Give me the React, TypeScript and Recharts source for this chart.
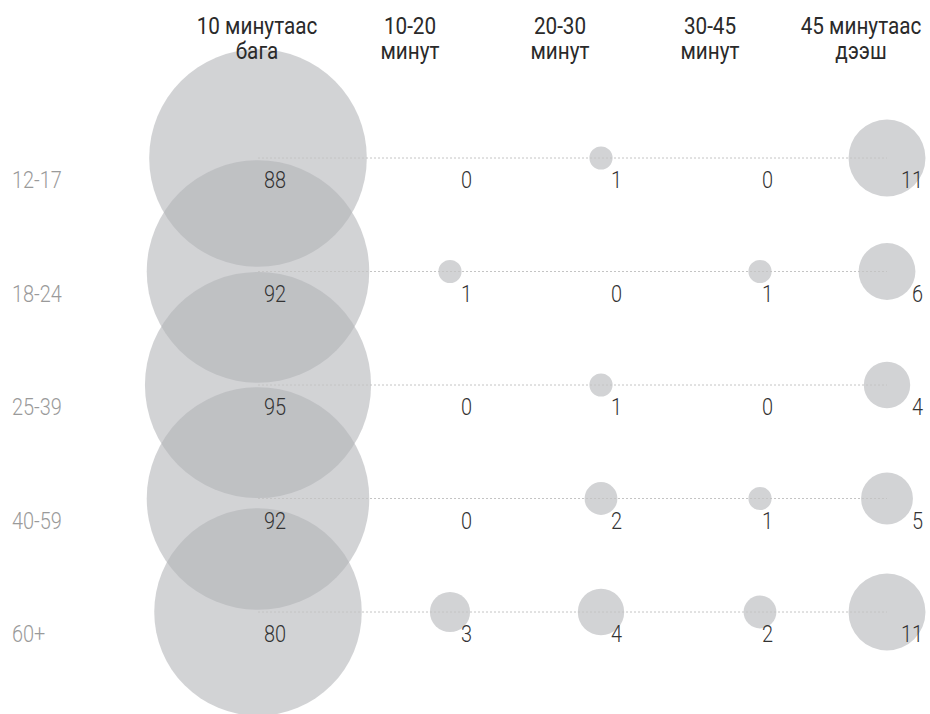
import { Scatter, ScatterChart, XAxis, YAxis, ZAxis } from "recharts"

const AGE_GROUPS = ["12-17", "18-24", "25-39", "40-59", "60+"]
const DURATIONS = [
  ["10 минутаас", "бага"],
  ["10-20", "минут"],
  ["20-30", "минут"],
  ["30-45", "минут"],
  ["45 минутаас", "дээш"],
]
const UNDER_10 = [88, 92, 95, 92, 80]
const MIN_10_20 = [0, 1, 0, 0, 3]
const MIN_20_30 = [1, 0, 1, 2, 4]
const MIN_30_45 = [0, 1, 0, 1, 2]
const OVER_45 = [11, 6, 4, 5, 11]

// layout: column positions on the 0..930 x scale
const BUBBLE_X = [258, 450, 601, 760, 887]
const HEADER_X = [257, 410, 560, 710, 861]
const LABEL_DX = [28, 22, 21, 13, 36]

const W = 930
const H = 714
const UNIT_AREA = Math.PI * 11.6 * 11.6

const columns = [UNDER_10, MIN_10_20, MIN_20_30, MIN_30_45, OVER_45]

const points = AGE_GROUPS.flatMap((_, row) =>
  columns.map((values, col) => ({ x: BUBBLE_X[col], y: row, value: values[row], col }))
)

const rowLines = AGE_GROUPS.map((_, row) => [
  { x: BUBBLE_X[0], y: row },
  { x: BUBBLE_X[BUBBLE_X.length - 1], y: row },
])

const FONT = "Roboto, 'Noto Sans', sans-serif"

function DurationTick(props: any) {
  const { x, index } = props
  const lines = DURATIONS[index] ?? ["", ""]
  return (
    <text
      transform={`translate(${x} 0) scale(0.9 1)`}
      textAnchor="middle"
      fontFamily={FONT}
      fontSize={23}
      fill="#2a2a2a"
    >
      <tspan x={0} y={34}>{lines[0]}</tspan>
      <tspan x={0} y={59}>{lines[1]}</tspan>
    </text>
  )
}

function AgeTick(props: any) {
  const { y, index } = props
  return (
    <text
      transform={`translate(12 ${y + 30}) scale(0.83 1)`}
      fontFamily={FONT}
      fontWeight={300}
      fontSize={24}
      fill="#9a9a9a"
    >
      {AGE_GROUPS[index]}
    </text>
  )
}

function ValueLabel(props: any) {
  const { cx, cy, payload } = props
  return (
    <text
      transform={`translate(${Math.round(cx + LABEL_DX[payload.col])} ${cy + 30}) scale(0.83 1)`}
      textAnchor="end"
      fontFamily={FONT}
      fontWeight={300}
      fontSize={24}
      style={{ fill: "#333" }}
    >
      {payload.value}
    </text>
  )
}

export default function App() {
  return (
    <div style={{ position: "fixed", left: 0, top: 0, background: "#fff" }}>
      <ScatterChart width={W} height={H} margin={{ top: 158, right: 0, bottom: 102, left: 0 }}>
        <XAxis
          type="number"
          dataKey="x"
          domain={[0, W]}
          orientation="top"
          mirror
          ticks={HEADER_X}
          interval={0}
          axisLine={false}
          tickLine={false}
          tick={<DurationTick />}
        />
        <YAxis
          type="number"
          dataKey="y"
          domain={[0, 4]}
          reversed
          mirror
          ticks={[0, 1, 2, 3, 4]}
          interval={0}
          axisLine={false}
          tickLine={false}
          tick={<AgeTick />}
        />
        <ZAxis type="number" dataKey="value" domain={[0, 100]} range={[0, 100 * UNIT_AREA]} />
        <Scatter data={points} fill="#b1b3b6" fillOpacity={0.58} isAnimationActive={false} />
        {rowLines.map((line, i) => (
          <Scatter
            key={i}
            data={line}
            line={{ stroke: "#c4c4c4", strokeWidth: 1, strokeDasharray: "2 2" }}
            shape={() => <g />}
            isAnimationActive={false}
          />
        ))}
        <Scatter data={points} shape={<ValueLabel />} isAnimationActive={false} />
      </ScatterChart>
    </div>
  )
}
